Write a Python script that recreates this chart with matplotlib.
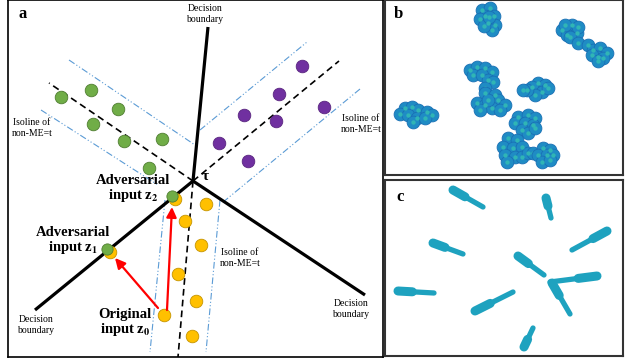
import matplotlib
matplotlib.use("Agg")
import matplotlib.pyplot as plt

plt.rcParams['font.family'] = ['Liberation Serif', 'DejaVu Serif']
plt.rcParams['mathtext.fontset'] = 'stix'

# panel a: everything in picture pixel coordinates
centre = (193, 181)
boundary_ends = [(208, 27), (35, 310), (365, 295)]
dashed_ends = [(49, 83), (339, 61), (178, 357)]
isolines = [((69, 60), (195, 145)), ((41, 110), (158, 185)),
            ((200, 130), (307, 42)), ((360, 89), (222, 203)),
            ((165, 200), (150, 352)), ((220, 200), (206, 352))]

green_x = [61, 91, 118, 93, 124, 162, 149]
green_y = [97, 90, 109, 124, 141, 139, 168]
purple_x = [302, 279, 244, 276, 324, 219, 248]
purple_y = [66, 94, 115, 121, 107, 143, 161]
yellow_x = [206, 185, 201, 178, 196, 164, 192]
yellow_y = [204, 221, 245, 274, 301, 315, 336]
adv_x = [173, 108]
adv_y = [197, 250]
arrows = [((158, 308), (115, 258)), ((167, 310), (172, 207))]

# panel b: cluster points
clusters_b = [
    [(482, 10), (490, 8), (485, 16), (494, 16), (480, 19), (488, 23), (495, 25), (492, 30), (484, 26), (489, 17)],
    [(572, 25), (562, 30), (567, 35), (577, 33), (565, 25), (578, 27), (570, 37), (578, 43)],
    [(588, 45), (593, 50), (600, 48), (607, 53), (598, 57), (592, 55), (603, 58), (598, 61)],
    [(470, 70), (477, 67), (485, 68), (492, 72), (473, 75), (482, 75), (488, 80), (493, 82), (485, 88)],
    [(485, 93), (495, 95), (498, 100), (505, 105), (477, 103), (485, 105), (492, 108), (480, 110), (500, 110), (488, 100)],
    [(538, 83), (545, 85), (532, 87), (542, 92), (535, 95), (527, 90), (548, 88), (523, 90)],
    [(405, 108), (412, 107), (418, 110), (427, 112), (432, 115), (400, 114), (408, 115), (417, 118), (425, 118), (413, 122)],
    [(518, 117), (528, 115), (535, 118), (515, 123), (525, 123), (533, 125), (522, 130), (528, 133), (535, 128)],
    [(508, 138), (517, 140), (503, 147), (513, 148), (522, 147), (505, 155), (515, 157), (507, 162), (522, 157), (528, 153), (533, 153)],
    [(543, 148), (550, 150), (538, 155), (547, 155), (553, 155), (542, 162), (550, 160)],
]

# panel c: streaks as (head, tail)
streaks_c = [
    ((453, 190), (483, 207)), ((546, 198), (551, 218)), ((607, 231), (572, 250)),
    ((433, 243), (463, 254)), ((518, 256), (544, 275)), ((597, 276), (550, 282)),
    ((552, 283), (570, 314)), ((398, 291), (434, 293)), ((475, 311), (513, 292)),
    ((524, 347), (533, 328)),
]

W, H = 627, 362
fig = plt.figure(figsize=(6.27, 3.62), dpi=100)


def px_axes(x0, y0, x1, y1):
    ax = fig.add_axes([x0 / W, 1 - y1 / H, (x1 - x0) / W, (y1 - y0) / H])
    ax.set_xlim(x0, x1)
    ax.set_ylim(y1, y0)
    ax.set_xticks([])
    ax.set_yticks([])
    return ax


ax = px_axes(8, 0, 383, 357)
for s in ax.spines.values():
    s.set_linewidth(1.2)
    s.set_color('black')

blue = '#5b9bd5'
for (a, b) in isolines:
    ax.plot([a[0], b[0]], [a[1], b[1]], color=blue, lw=0.8,
            dashes=(6, 2, 1, 2, 1, 2))
for e in dashed_ends:
    ax.plot([centre[0], e[0]], [centre[1], e[1]], color='black', lw=1.2,
            dashes=(4, 2.5))
for e in boundary_ends:
    ax.plot([centre[0], e[0]], [centre[1], e[1]], color='black', lw=2.3,
            solid_capstyle='butt')

ms = 82
ax.scatter(green_x, green_y, s=ms, color='#70ad47', edgecolor='#507e32', lw=0.6, zorder=3)
ax.scatter(purple_x, purple_y, s=ms, color='#7030a0', edgecolor='#5a2680', lw=0.6, zorder=3)
ax.scatter(yellow_x, yellow_y, s=ms, color='#ffc000', edgecolor='#c59400', lw=0.6, zorder=3)
for x, y in zip(adv_x, adv_y):
    ax.scatter([x + 2], [y + 2], s=ms, color='#ffc000', edgecolor='#c59400', lw=0.6, zorder=3)
    ax.scatter([x - 1.5], [y - 1.5], s=ms * 0.8, color='#70ad47', edgecolor='#507e32', lw=0.6, zorder=4)

for (a, b) in arrows:
    ax.annotate('', xy=b, xytext=a,
                arrowprops=dict(arrowstyle='-|>,head_length=0.6,head_width=0.3',
                                color='#ff0000', lw=1.6, shrinkA=0, shrinkB=0))

small = dict(fontsize=7, ha='center', va='center', linespacing=1.15)
ax.text(205, 14, 'Decision\nboundary', **small)
ax.text(36, 325, 'Decision\nboundary', **small)
ax.text(351, 309, 'Decision\nboundary', **small)
ax.text(32, 128, 'Isoline of\nnon-ME=t', **small)
ax.text(361, 124, 'Isoline of\nnon-ME=t', **small)
ax.text(240, 258, 'Isoline of\nnon-ME=t', **small)

big = dict(fontsize=10.5, ha='center', va='center', fontweight='bold', linespacing=1.0)
ax.text(133, 189, 'Adversarial\ninput z$_{\\mathbf{2}}$', **big)
ax.text(73, 241, 'Adversarial\ninput z$_{\\mathbf{1}}$', **big)
ax.text(125, 323, 'Original\ninput z$_{\\mathbf{0}}$', **big)
ax.text(205, 176, 'τ', fontsize=11, fontweight='bold', ha='center', va='center')
ax.text(23, 14, 'a', fontsize=12, fontweight='bold', ha='center', va='center')

# panel b
bx = px_axes(385, 0, 623, 175)
for s in bx.spines.values():
    s.set_linewidth(1.5)
    s.set_color('#333333')
for pts in clusters_b:
    xs = [p[0] for p in pts]
    ys = [p[1] for p in pts]
    bx.scatter(xs, ys, s=85, color='#1f8cc4', edgecolor='#1a6fb5', lw=0.6)
    bx.scatter(xs, ys, s=10, color='#30b5b5', lw=0)
bx.text(398, 14, 'b', fontsize=12, fontweight='bold', ha='center', va='center')

# panel c
cx = px_axes(385, 180, 623, 356)
for s in cx.spines.values():
    s.set_linewidth(1.5)
    s.set_color('#333333')
for head, tail in streaks_c:
    cx.plot([head[0], tail[0]], [head[1], tail[1]], color='#1ea2bf', lw=3.8,
            solid_capstyle='round')
    mid = ((3 * head[0] + 2 * tail[0]) / 5, (3 * head[1] + 2 * tail[1]) / 5)
    cx.plot([head[0], mid[0]], [head[1], mid[1]], color='#1ea2bf', lw=6.5,
            solid_capstyle='round')
cx.text(400, 197, 'c', fontsize=12, fontweight='bold', ha='center', va='center')

fig.savefig('out.png', dpi=100)
